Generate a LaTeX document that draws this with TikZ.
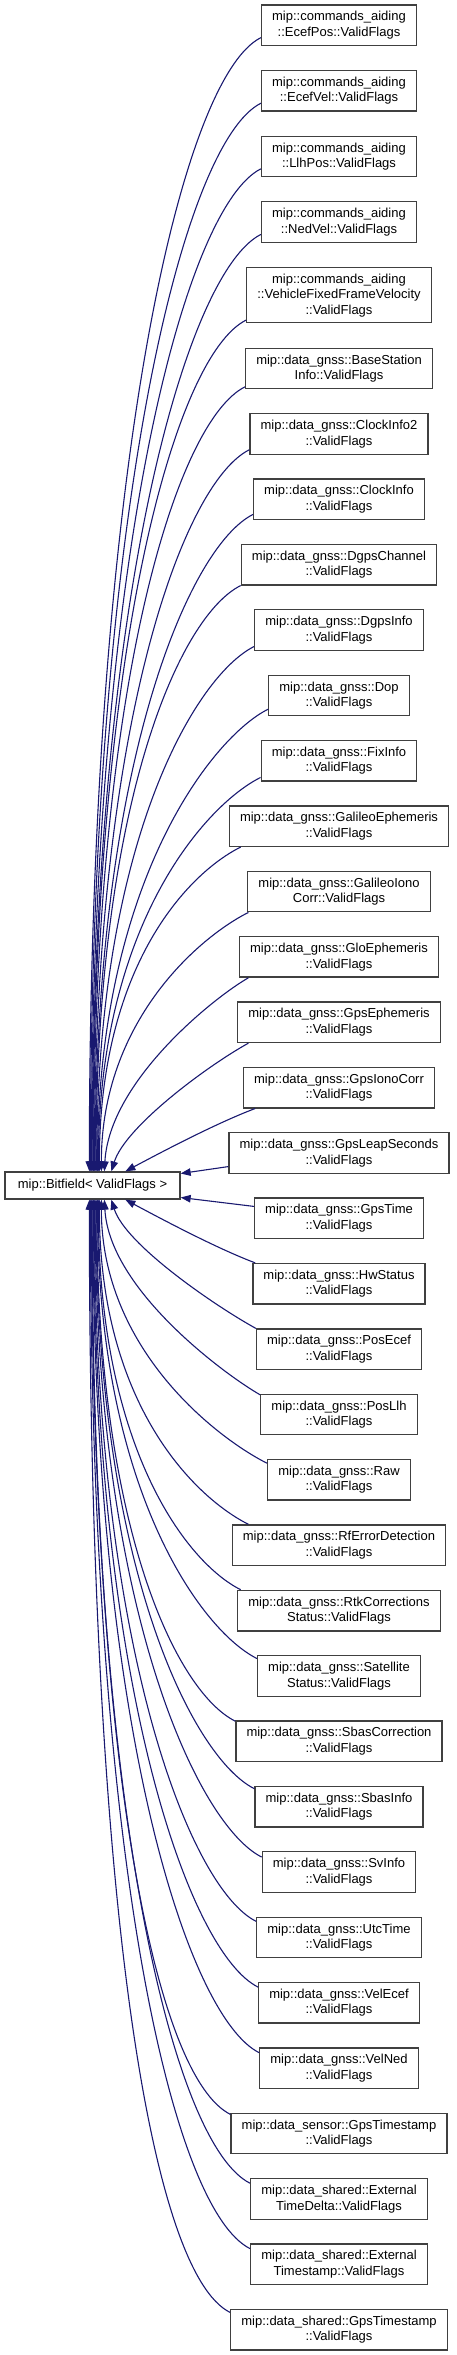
\documentclass[tikz,border=0pt]{standalone}
\usepackage{fontspec}
\setmainfont{Liberation Sans}
\usetikzlibrary{arrows.meta}
\definecolor{edgecol}{HTML}{191970}
\definecolor{boxcol}{HTML}{404040}
\begin{document}
\begin{tikzpicture}[x=1pt,y=-1pt,
  box/.style={draw=boxcol, line width=1.3pt, fill=white, align=center,
    font=\fontsize{13}{15.5}\selectfont, inner xsep=10.6pt, inner ysep=0pt,
    minimum height=40.5pt},
  edge/.style={draw=edgecol, line width=1.1pt, -{Triangle[length=10pt,width=7.5pt]}}]
\useasboundingbox (0,0) rectangle (456,2355);

\node[box, minimum width=175pt, minimum height=27pt] (base) at (92.5,1185.5) {mip::Bitfield< ValidFlags >};

\node[box] (c1) at (339,25.25) {mip::commands\_aiding\\::EcefPos::ValidFlags};
\node[box] (c2) at (339,90.85) {mip::commands\_aiding\\::EcefVel::ValidFlags};
\node[box] (c3) at (339,156.45) {mip::commands\_aiding\\::LlhPos::ValidFlags};
\node[box] (c4) at (339,222.05) {mip::commands\_aiding\\::NedVel::ValidFlags};
\node[box, minimum height=55pt] (c5) at (339,295.2) {mip::commands\_aiding\\::VehicleFixedFrameVelocity\\::ValidFlags};
\node[box] (c6) at (339,368.55) {mip::data\_gnss::BaseStation\\Info::ValidFlags};
\node[box] (c7) at (339,433.92) {mip::data\_gnss::ClockInfo2\\::ValidFlags};
\node[box] (c8) at (339,499.29) {mip::data\_gnss::ClockInfo\\::ValidFlags};
\node[box] (c9) at (339,564.66) {mip::data\_gnss::DgpsChannel\\::ValidFlags};
\node[box] (c10) at (339,630.03) {mip::data\_gnss::DgpsInfo\\::ValidFlags};
\node[box] (c11) at (339,695.40) {mip::data\_gnss::Dop\\::ValidFlags};
\node[box] (c12) at (339,760.77) {mip::data\_gnss::FixInfo\\::ValidFlags};
\node[box] (c13) at (339,826.14) {mip::data\_gnss::GalileoEphemeris\\::ValidFlags};
\node[box] (c14) at (339,891.51) {mip::data\_gnss::GalileoIono\\Corr::ValidFlags};
\node[box] (c15) at (339,956.88) {mip::data\_gnss::GloEphemeris\\::ValidFlags};
\node[box] (c16) at (339,1022.25) {mip::data\_gnss::GpsEphemeris\\::ValidFlags};
\node[box] (c17) at (339,1087.62) {mip::data\_gnss::GpsIonoCorr\\::ValidFlags};
\node[box] (c18) at (339,1152.99) {mip::data\_gnss::GpsLeapSeconds\\::ValidFlags};
\node[box] (c19) at (339,1218.36) {mip::data\_gnss::GpsTime\\::ValidFlags};
\node[box] (c20) at (339,1283.73) {mip::data\_gnss::HwStatus\\::ValidFlags};
\node[box] (c21) at (339,1349.10) {mip::data\_gnss::PosEcef\\::ValidFlags};
\node[box] (c22) at (339,1414.47) {mip::data\_gnss::PosLlh\\::ValidFlags};
\node[box] (c23) at (339,1479.84) {mip::data\_gnss::Raw\\::ValidFlags};
\node[box] (c24) at (339,1545.21) {mip::data\_gnss::RfErrorDetection\\::ValidFlags};
\node[box] (c25) at (339,1610.58) {mip::data\_gnss::RtkCorrections\\Status::ValidFlags};
\node[box] (c26) at (339,1675.95) {mip::data\_gnss::Satellite\\Status::ValidFlags};
\node[box] (c27) at (339,1741.32) {mip::data\_gnss::SbasCorrection\\::ValidFlags};
\node[box] (c28) at (339,1806.69) {mip::data\_gnss::SbasInfo\\::ValidFlags};
\node[box] (c29) at (339,1872.06) {mip::data\_gnss::SvInfo\\::ValidFlags};
\node[box] (c30) at (339,1937.43) {mip::data\_gnss::UtcTime\\::ValidFlags};
\node[box] (c31) at (339,2002.80) {mip::data\_gnss::VelEcef\\::ValidFlags};
\node[box] (c32) at (339,2068.17) {mip::data\_gnss::VelNed\\::ValidFlags};
\node[box] (c33) at (339,2133.54) {mip::data\_sensor::GpsTimestamp\\::ValidFlags};
\node[box] (c34) at (339,2198.91) {mip::data\_shared::External\\TimeDelta::ValidFlags};
\node[box] (c35) at (339,2264.28) {mip::data\_shared::External\\Timestamp::ValidFlags};
\node[box] (c36) at (339,2329.65) {mip::data\_shared::GpsTimestamp\\::ValidFlags};

% edges from the upper children to the top of the base
\foreach \n/\ang/\hx/\ca/\cb/\cc/\cd in {
  c1/189/85/-80/40/0/-703,
  c2/189.3/86/-77.7/38.9/0/-663,
  c3/189.6/87/-75.4/37.7/0/-622,
  c4/189.9/87.8/-73.1/36.6/0/-582,
  c5/195/88.5/-70.2/35.1/0/-531,
  c6/191/89.2/-67.9/34/0/-491,
  c7/190.5/90/-65.6/32.8/0/-450,
  c8/190.8/90.8/-63.3/31.7/0/-410,
  c9/192/91.6/-61/30.5/0/-369,
  c10/191/92.4/-58.7/29.4/0/-329,
  c11/191.5/93.2/-56.4/28.2/0/-288,
  c12/192/94/-54.1/27/0/-248,
  c13/192.5/95/-51.8/25.9/0/-207,
  c14/193/97/-49.5/24.8/0/-150,
  c15/193.5/100/-35/20/5/-90,
  c16/193.5/107/-40/22/14/-45,
  c17/194/121/-40/15/30/-16}
  \draw[edge] (\n.\ang) .. controls +(\ca,\cb) and +(\cc,\cd) .. ([xshift=\hx pt]base.north west);

% edges from the lower children to the bottom of the base
\foreach \n/\ang/\hx/\ca/\cb/\cc/\cd in {
  c36/171/85/-80/-40/0/703,
  c35/170.7/86/-77.7/-38.9/0/663,
  c34/170.4/87/-75.4/-37.7/0/622,
  c33/170.1/87.8/-73.1/-36.6/0/582,
  c32/169.5/88.5/-70.2/-35.1/0/531,
  c31/169/89.2/-67.9/-34/0/491,
  c30/169.5/90/-65.6/-32.8/0/450,
  c29/169.2/90.8/-63.3/-31.7/0/410,
  c28/168/91.6/-61/-30.5/0/369,
  c27/169/92.4/-58.7/-29.4/0/329,
  c26/168.5/93.2/-56.4/-28.2/0/288,
  c25/168/94/-54.1/-27/0/248,
  c24/167.5/95/-51.8/-25.9/0/207,
  c23/167/97/-49.5/-24.8/0/150,
  c22/166.5/100/-35/-20/5/90,
  c21/166.5/107/-40/-22/14/45,
  c20/166/121/-40/-15/30/16}
  \draw[edge] (\n.\ang) .. controls +(\ca,\cb) and +(\cc,\cd) .. ([xshift=\hx pt]base.south west);

% the two nearest children meet the right side of the base
\draw[edge] (c18.187.5) -- ([yshift=12pt]base.east);
\draw[edge] (c19.172.5) -- ([yshift=-12pt]base.east);
\end{tikzpicture}
\end{document}
